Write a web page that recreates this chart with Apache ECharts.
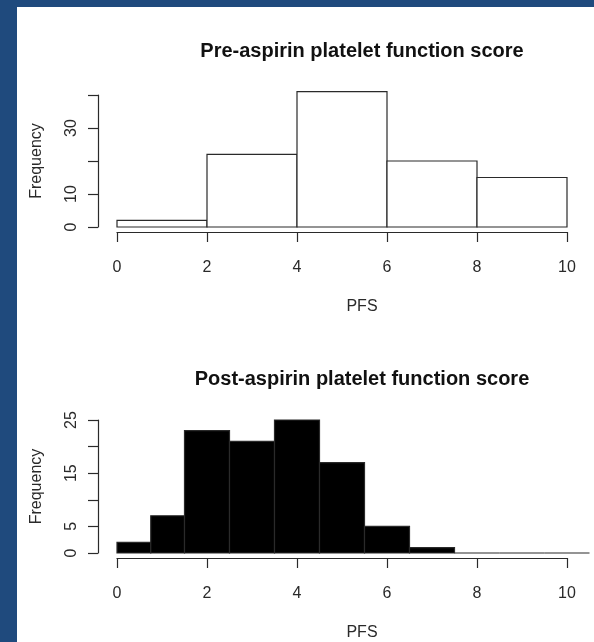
<!DOCTYPE html>
<html>
<head>
<meta charset="utf-8">
<script src="https://cdn.jsdelivr.net/npm/echarts@6/dist/echarts.min.js"></script>
<style>
  html, body { margin: 0; padding: 0; background: #ffffff; }
  #chart { width: 594px; height: 642px; }
</style>
</head>
<body>
<div id="chart"></div>
<script>
// Pre-aspirin platelet function score: bin edges and counts
const preBreaks = [0, 2, 4, 6, 8, 10];
const preCounts = [2, 22, 41, 20, 15];

// Post-aspirin platelet function score: bin edges and counts
const postBreaks = [0, 0.75, 1.5, 2.5, 3.5, 4.5, 5.5, 6.5, 7.5, 8.5, 9.5, 10.5];
const postCounts = [2, 7, 23, 21, 25, 17, 5, 1, 0, 0, 0];

// Axis ticks and the labels printed beside them
const xTicks = [0, 2, 4, 6, 8, 10];
const preYTicks = [0, 10, 20, 30, 40];
const preYLabels = ['0', '10', '', '30', ''];
const postYTicks = [0, 5, 10, 15, 20, 25];
const postYLabels = ['0', '5', '', '15', '', '25'];

const titles = ['Pre-aspirin platelet function score', 'Post-aspirin platelet function score'];
const xName = 'PFS';
const yName = 'Frequency';

const FONT = "'Liberation Sans', Arial, sans-serif";
const INK = '#2a2a2a';
const FRAME = '#1f4a7d';

function toBins(breaks, counts) {
  return counts.map((c, i) => [breaks[i], breaks[i + 1], c]);
}

function pickLabel(ticks, labels) {
  return v => {
    const i = ticks.indexOf(v);
    return i >= 0 ? labels[i] : '';
  };
}

function histRenderer(fill) {
  return function (params, api) {
    const x0 = api.value(0), x1 = api.value(1), n = api.value(2);
    const a = api.coord([x0, 0]);
    const b = api.coord([x1, n]);
    return {
      type: 'rect',
      shape: { x: a[0], y: b[1], width: b[0] - a[0], height: a[1] - b[1] },
      style: { fill: fill, stroke: INK, lineWidth: 1.2 }
    };
  };
}

function xAxisFor(gridIndex) {
  return {
    type: 'value', gridIndex: gridIndex, min: 0, max: 10, interval: 2,
    position: 'bottom', offset: 5,
    name: xName, nameLocation: 'middle', nameGap: 67,
    nameTextStyle: { fontFamily: FONT, fontSize: 16, color: INK, padding: [0, 0, 0, 40] },
    axisLine: { show: true, onZero: false, lineStyle: { color: INK, width: 1.2 } },
    axisTick: { show: true, length: 10, lineStyle: { color: INK, width: 1.2 } },
    axisLabel: { margin: 28, fontFamily: FONT, fontSize: 16, color: INK,
      formatter: v => (xTicks.indexOf(v) >= 0 ? String(v) : '') },
    splitLine: { show: false }
  };
}

function yAxisFor(gridIndex, ticks, labels) {
  return {
    type: 'value', gridIndex: gridIndex,
    min: ticks[0], max: ticks[ticks.length - 1], interval: ticks[1] - ticks[0],
    position: 'left', offset: 19,
    name: yName, nameLocation: 'middle', nameGap: 53, nameRotate: 90,
    nameTextStyle: { fontFamily: FONT, fontSize: 16, color: INK },
    axisLine: { show: true, onZero: false, lineStyle: { color: INK, width: 1.2 } },
    axisTick: { show: true, length: 10, lineStyle: { color: INK, width: 1.2 } },
    axisLabel: { rotate: 90, margin: 18, fontFamily: FONT, fontSize: 16, color: INK,
      formatter: pickLabel(ticks, labels) },
    splitLine: { show: false }
  };
}

const chart = echarts.init(document.getElementById('chart'), null, { renderer: 'canvas' });

chart.setOption({
  backgroundColor: '#ffffff',
  animation: false,
  title: titles.map((t, i) => ({
    text: t, left: 362, top: i === 0 ? 41 : 369, textAlign: 'center', padding: 0,
    textStyle: { fontFamily: FONT, fontSize: 20, fontWeight: 'bold', color: '#111111' }
  })),
  graphic: [
    { type: 'rect', left: 0, top: 0, z: -10, shape: { width: 17, height: 642 }, style: { fill: FRAME } },
    { type: 'rect', left: 0, top: 0, z: -10, shape: { width: 594, height: 7 }, style: { fill: FRAME } }
  ],
  grid: [
    { left: 117, top: 95, width: 450, height: 132 },
    { left: 117, top: 420, width: 450, height: 136 }
  ],
  xAxis: [xAxisFor(0), xAxisFor(1)],
  yAxis: [yAxisFor(0, preYTicks, preYLabels), yAxisFor(1, postYTicks, postYLabels)],
  series: [
    {
      type: 'custom', xAxisIndex: 0, yAxisIndex: 0, clip: false,
      renderItem: histRenderer('#ffffff'),
      encode: { x: [0, 1], y: 2 },
      data: toBins(preBreaks, preCounts)
    },
    {
      type: 'custom', xAxisIndex: 1, yAxisIndex: 1, clip: false,
      renderItem: histRenderer('#000000'),
      encode: { x: [0, 1], y: 2 },
      data: toBins(postBreaks, postCounts)
    }
  ]
});
</script>
</body>
</html>
